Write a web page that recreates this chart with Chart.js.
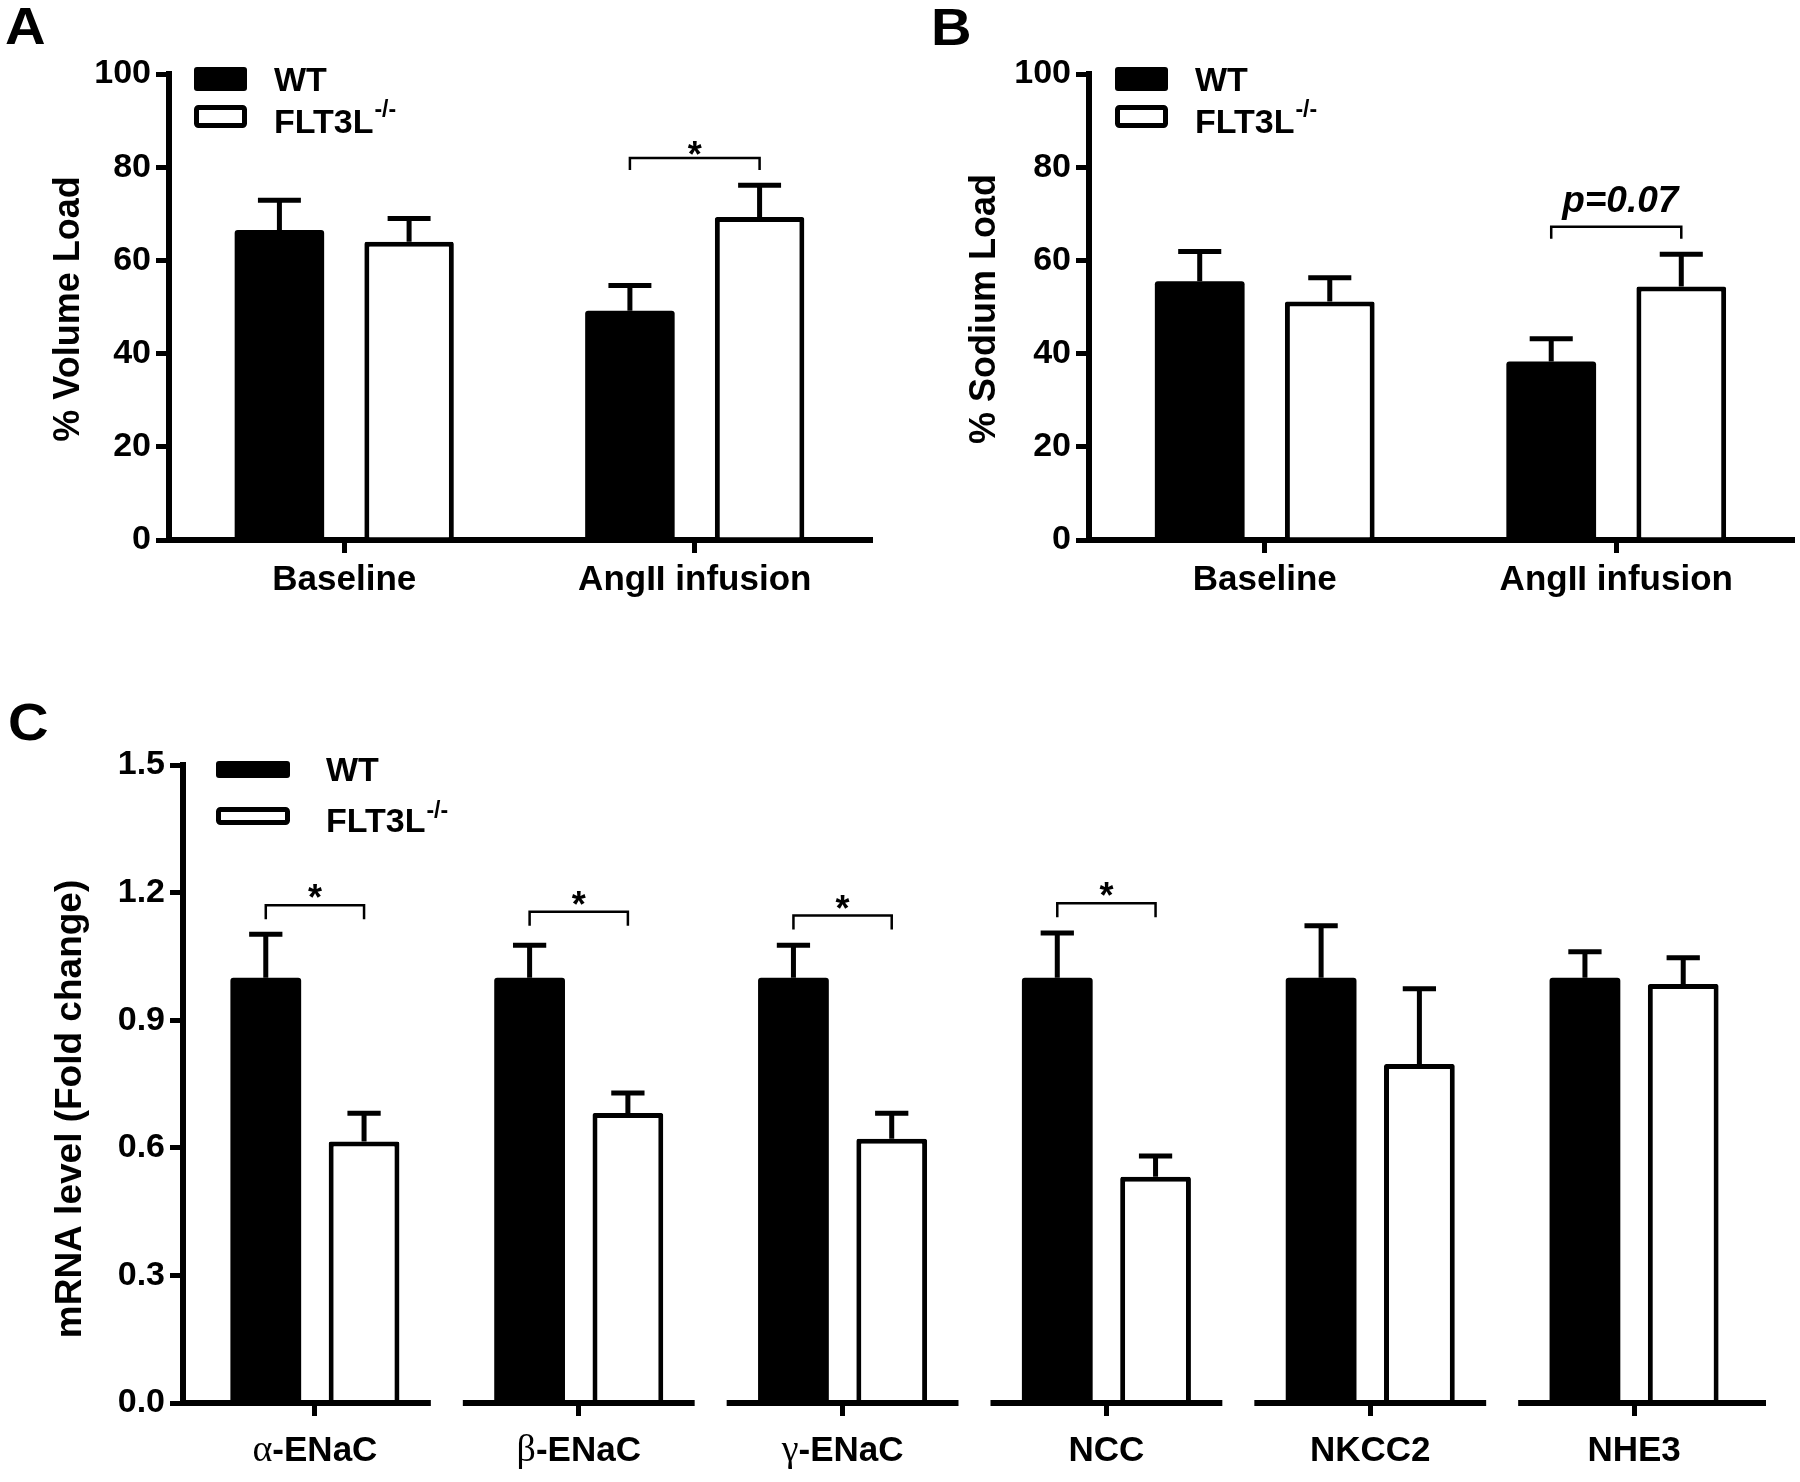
<!DOCTYPE html>
<html>
<head>
<meta charset="utf-8">
<title>FLT3L knockout: natriuresis and sodium transporter mRNA</title>
<script src="https://cdn.jsdelivr.net/npm/chart.js@4.4.1/dist/chart.umd.min.js"></script>
<style>
  html, body { margin: 0; padding: 0; background: #fff; }
  body { position: relative; width: 1800px; height: 1482px; overflow: hidden; font-family: "Liberation Sans", Arial, sans-serif; }
  .tag { position: absolute; font-weight: bold; font-size: 52px; line-height: 1; transform: scaleX(1.08); transform-origin: 0 0; color: #000; }
  canvas { position: absolute; }
</style>
</head>
<body>
<div class="tag" style="left:5px;top:0">A</div>
<div class="tag" style="left:931px;top:1px">B</div>
<div class="tag" style="left:8px;top:696px">C</div>
<canvas id="volume" width="900" height="620" style="left:0;top:0"></canvas>
<canvas id="sodium" width="900" height="620" style="left:900px;top:0"></canvas>
<canvas id="mrna" width="1800" height="802" style="left:0;top:680px"></canvas>
<script>
const FONT = '"Liberation Sans", Arial, sans-serif';

const seriesNames = ["WT", "FLT3L"];
const koSuperscript = "-/-";

// panel A + B
const loadGroups = ["Baseline", "AngII infusion"];
const loadTicks = [0, 20, 40, 60, 80, 100];

const volumeWT = [66.5, 49.2];
const volumeWTsem = [6.4, 5.4];
const volumeKO = [64.0, 69.3];
const volumeKOsem = [5.0, 6.8];
const volumeBracket = [null, 82.0];
const volumeMark = [null, "*"];

const sodiumWT = [55.5, 38.3];
const sodiumWTsem = [6.4, 4.9];
const sodiumKO = [51.2, 54.4];
const sodiumKOsem = [5.1, 6.9];
const sodiumBracket = [null, 67.2];
const sodiumMark = [null, "p=0.07"];

// panel C
const genes = ["α-ENaC", "β-ENaC", "γ-ENaC", "NCC", "NKCC2", "NHE3"];
const mrnaTicks = [0, 0.3, 0.6, 0.9, 1.2, 1.5];
const mrnaWT = [1.0, 1.0, 1.0, 1.0, 1.0, 1.0];
const mrnaWTsem = [0.102, 0.076, 0.076, 0.105, 0.122, 0.061];
const mrnaKO = [0.615, 0.682, 0.621, 0.532, 0.797, 0.985];
const mrnaKOsem = [0.066, 0.047, 0.060, 0.049, 0.177, 0.062];
const mrnaBracket = [1.170, 1.155, 1.146, 1.175, null, null];
const mrnaMark = ["*", "*", "*", "*", null, null];

const decor = {};

function box(ctx, x, y, w, h, r) {
  ctx.beginPath();
  if (ctx.roundRect) ctx.roundRect(x, y, w, h, r);
  else ctx.rect(x, y, w, h);
}

const decorPlugin = {
  id: "decor",
  afterDatasetsDraw(chart) {
    const d = decor[chart.canvas.id];
    const ctx = chart.ctx;
    const xs = chart.scales.x, ys = chart.scales.y;
    const area = chart.chartArea;
    ctx.save();
    ctx.strokeStyle = "#000";
    ctx.fillStyle = "#000";
    ctx.lineCap = "butt";

    // error bars (upper only)
    [d.wtSem, d.koSem].forEach((sem, di) => {
      const meta = chart.getDatasetMeta(di);
      meta.data.forEach((bar, i) => {
        const v = chart.data.datasets[di].data[i];
        const top = ys.getPixelForValue(v);
        const end = ys.getPixelForValue(v + sem[i]);
        const half = bar.width * d.capRatio / 2;
        ctx.lineWidth = d.errWidth;
        ctx.beginPath();
        ctx.moveTo(bar.x, top);
        ctx.lineTo(bar.x, end);
        ctx.moveTo(bar.x - half, end);
        ctx.lineTo(bar.x + half, end);
        ctx.stroke();
      });
    });

    // significance brackets
    const m0 = chart.getDatasetMeta(0), m1 = chart.getDatasetMeta(1);
    d.brackets.forEach((b, i) => {
      if (b === null) return;
      const x0 = m0.data[i].x, x1 = m1.data[i].x;
      const yy = ys.getPixelForValue(b);
      ctx.lineWidth = 2.5;
      ctx.beginPath();
      ctx.moveTo(x0, yy + d.leg);
      ctx.lineTo(x0, yy);
      ctx.lineTo(x1, yy);
      ctx.lineTo(x1, yy + d.leg);
      ctx.stroke();
      ctx.font = d.markFont;
      ctx.textAlign = "center";
      ctx.textBaseline = "alphabetic";
      ctx.fillText(d.marks[i], (x0 + x1) / 2 + d.markDx, yy + d.markDy);
    });

    // legend
    const L = d.legend;
    chart.data.datasets.forEach((ds, k) => {
      const row = L.rows[k];
      const bx = area.left + L.x, by = area.top + row.y;
      if (k === 0) {
        box(ctx, bx, by, L.w, row.h, 3);
        ctx.fillStyle = "#000";
        ctx.fill();
      } else {
        box(ctx, bx + 2.5, by + 2.5, L.w - 5, row.h - 5, 2);
        ctx.fillStyle = "#fff";
        ctx.fill();
        ctx.lineWidth = 5;
        ctx.stroke();
      }
      ctx.fillStyle = "#000";
      ctx.font = "bold 34px " + FONT;
      ctx.textAlign = "left";
      ctx.textBaseline = "alphabetic";
      const tx = area.left + L.textX, ty = area.top + row.base;
      ctx.fillText(ds.label, tx, ty);
      if (k === 1) {
        const w = ctx.measureText(ds.label).width;
        ctx.font = "bold 23px " + FONT;
        ctx.fillText(koSuperscript, tx + w + 1, ty - L.supRise);
      }
    });

    // y axis title
    ctx.save();
    ctx.translate(d.titleX, (area.top + area.bottom) / 2 + d.titleDy);
    ctx.rotate(-Math.PI / 2);
    ctx.font = "bold " + d.titleSize + "px " + FONT;
    ctx.textAlign = "center";
    ctx.textBaseline = "middle";
    ctx.fillText(d.yTitle, 0, 0);
    ctx.restore();

    // broken x axis and mixed-font category labels
    if (d.broken) {
      const n = chart.data.labels.length;
      const step = (xs.right - xs.left) / n;
      ctx.lineWidth = 6;
      for (let i = 0; i < n; i++) {
        const c = xs.getPixelForValue(i);
        const a = i === 0 ? area.left - 3 : c - step / 2 + 16;
        const b = i === n - 1 ? area.right : c + step / 2 - 16;
        ctx.beginPath();
        ctx.moveTo(a, area.bottom);
        ctx.lineTo(b, area.bottom);
        ctx.stroke();
      }
      const greekFont = "38px \"Liberation Serif\", \"Times New Roman\", serif";
      const labelFont = "bold 35px " + FONT;
      const base = area.bottom + 58;
      ctx.textAlign = "left";
      chart.data.labels.forEach((lab, i) => {
        const cx = xs.getPixelForValue(i);
        const greek = /^[α-ω]/.test(lab) ? lab[0] : "";
        const rest = lab.slice(greek.length);
        ctx.font = greekFont;
        const gw = greek ? ctx.measureText(greek).width : 0;
        ctx.font = labelFont;
        const rw = ctx.measureText(rest).width;
        const sx = cx - (gw + rw) / 2;
        if (greek) {
          ctx.font = greekFont;
          ctx.fillText(greek, sx, base);
        }
        ctx.font = labelFont;
        ctx.fillText(rest, sx + gw, base);
      });
    }
    ctx.restore();
  }
};

function drawPanel(id, cfg) {
  decor[id] = cfg;
  const axisGrid = {
    offset: false, drawOnChartArea: false, color: "#000", lineWidth: 5,
    tickLength: 13, tickColor: "#000", tickWidth: 5
  };
  return new Chart(document.getElementById(id), {
    type: "bar",
    data: {
      labels: cfg.labels,
      datasets: [
        { label: seriesNames[0], data: cfg.wt, backgroundColor: "#000", borderColor: "#000", borderWidth: 0,
          borderRadius: 3, categoryPercentage: cfg.catPct, barPercentage: cfg.barPct },
        { label: seriesNames[1], data: cfg.ko, backgroundColor: "#fff", borderColor: "#000", borderWidth: 5,
          borderRadius: 2, categoryPercentage: cfg.catPct, barPercentage: cfg.barPct }
      ]
    },
    options: {
      responsive: false,
      animation: false,
      events: [],
      layout: { padding: cfg.padding },
      plugins: { legend: { display: false }, tooltip: { enabled: false } },
      scales: {
        x: {
          z: 1,
          border: { display: !cfg.broken, color: "#000", width: 6 },
          grid: axisGrid,
          ticks: { display: !cfg.broken, color: "#000", padding: 6, autoSkip: false, maxRotation: 0,
                   font: { family: FONT, size: 35, weight: "bold" } },
          afterFit: s => { s.height = cfg.xHeight; }
        },
        y: {
          z: 1,
          min: 0,
          max: cfg.yMax,
          border: { color: "#000", width: 6 },
          grid: axisGrid,
          ticks: { color: "#000", padding: 5, font: { family: FONT, size: cfg.yTickSize, weight: "bold" },
                   callback: cfg.fmt },
          afterBuildTicks: s => { s.ticks = cfg.ticks.map(v => ({ value: v })); },
          afterFit: s => { s.width = cfg.yWidth; }
        }
      }
    },
    plugins: [decorPlugin]
  });
}

drawPanel("volume", {
  labels: loadGroups, wt: volumeWT, wtSem: volumeWTsem, ko: volumeKO, koSem: volumeKOsem,
  brackets: volumeBracket, marks: volumeMark,
  yMax: 100, ticks: loadTicks, fmt: v => String(v),
  yTitle: "% Volume Load", titleX: 69, titleDy: 2, titleSize: 36,
  padding: { top: 74, right: 30, left: 0, bottom: 0 }, yWidth: 169, xHeight: 80, yTickSize: 34,
  catPct: 0.74, barPct: 0.69, capRatio: 0.48, errWidth: 5,
  leg: 12, markFont: "bold 36px " + FONT, markDx: 0, markDy: 9,
  legend: { x: 25, w: 53, textX: 105, supRise: 16,
            rows: [{ y: -7, h: 24, base: 17 }, { y: 31, h: 23, base: 59 }] },
  broken: false
});

drawPanel("sodium", {
  labels: loadGroups, wt: sodiumWT, wtSem: sodiumWTsem, ko: sodiumKO, koSem: sodiumKOsem,
  brackets: sodiumBracket, marks: sodiumMark,
  yMax: 100, ticks: loadTicks, fmt: v => String(v),
  yTitle: "% Sodium Load", titleX: 85, titleDy: 2, titleSize: 36,
  padding: { top: 74, right: 8, left: 0, bottom: 0 }, yWidth: 189, xHeight: 80, yTickSize: 34,
  catPct: 0.74, barPct: 0.69, capRatio: 0.48, errWidth: 5,
  leg: 12, markFont: "italic bold 37px " + FONT, markDx: 4, markDy: -15,
  legend: { x: 26, w: 53, textX: 106, supRise: 16,
            rows: [{ y: -7, h: 24, base: 17 }, { y: 31, h: 23, base: 59 }] },
  broken: false
});

drawPanel("mrna", {
  labels: genes, wt: mrnaWT, wtSem: mrnaWTsem, ko: mrnaKO, koSem: mrnaKOsem,
  brackets: mrnaBracket, marks: mrnaMark,
  yMax: 1.5, ticks: mrnaTicks, fmt: v => v.toFixed(1),
  yTitle: "mRNA level (Fold change)", titleX: 71, titleDy: 25, titleSize: 37,
  padding: { top: 85, right: 34, left: 0, bottom: 0 }, yWidth: 183, xHeight: 79, yTickSize: 34,
  catPct: 0.745, barPct: 0.72, capRatio: 0.47, errWidth: 5,
  leg: 14, markFont: "bold 36px " + FONT, markDx: 0, markDy: 5,
  legend: { x: 33, w: 74, textX: 143, supRise: 14,
            rows: [{ y: -4, h: 17, base: 16 }, { y: 42, h: 18, base: 67 }] },
  broken: true
});
</script>
</body>
</html>
